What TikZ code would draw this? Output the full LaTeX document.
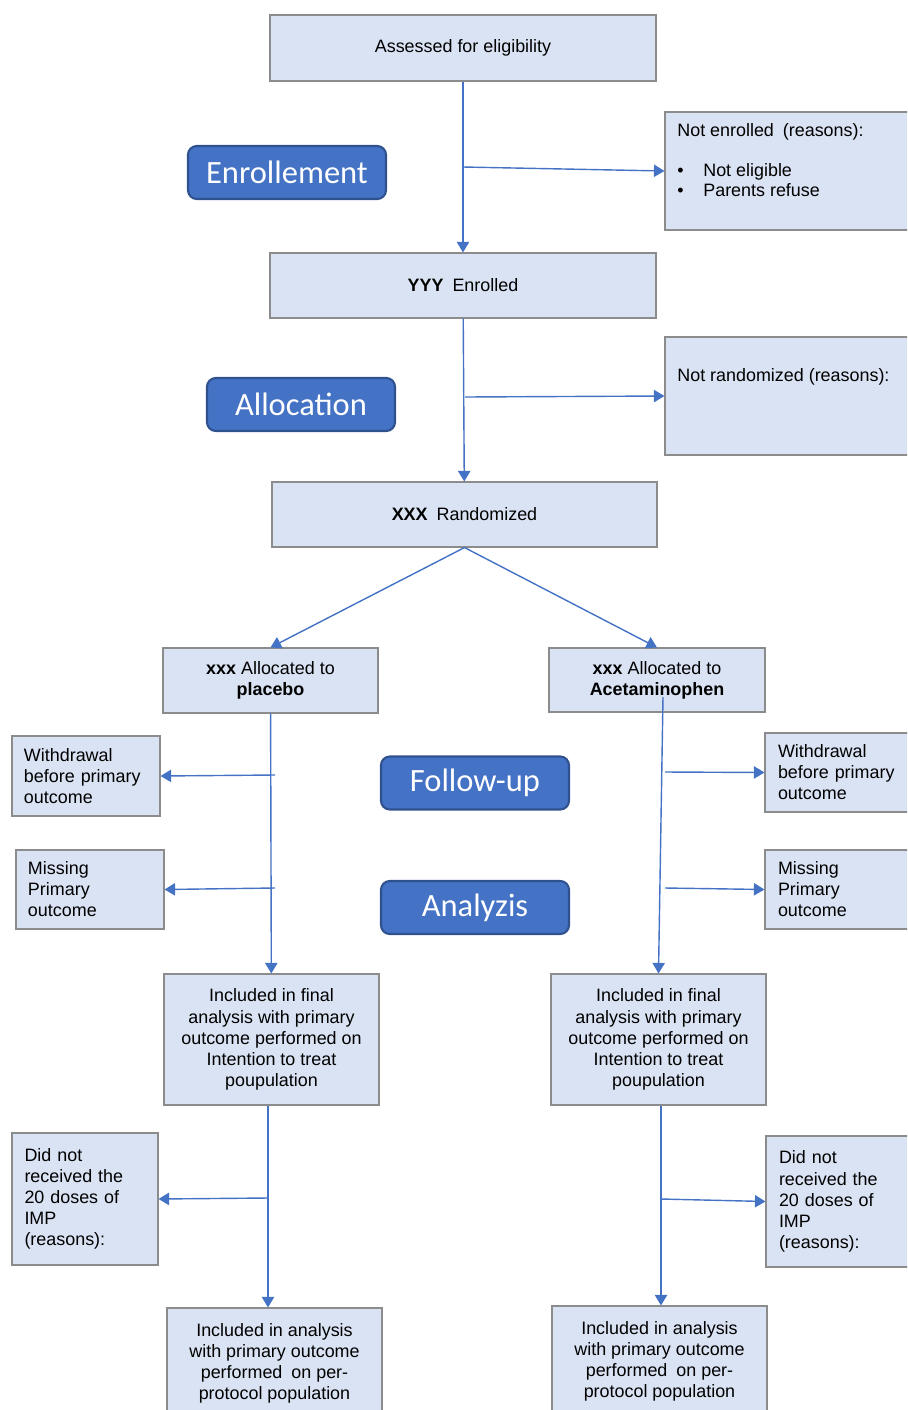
\documentclass[tikz,border=0pt]{standalone}
\usepackage{fontspec}
\setmainfont{Liberation Sans}
\newfontfamily\phasefont{Carlito}
\usetikzlibrary{arrows.meta}
\definecolor{boxfill}{HTML}{DAE3F3}
\definecolor{boxline}{HTML}{8C8C8C}
\definecolor{flowblue}{HTML}{4472C4}
\definecolor{phaseline}{HTML}{2F528F}
\newlength{\pix}
\setlength{\pix}{0.02cm}
\begin{document}
\begin{tikzpicture}[x = 0.02cm, y = -0.02cm,
		box/.style = {draw = boxline, fill = boxfill, line width = 0.6pt, inner sep = 0pt, align = center, font = \fontsize{10.2pt}{12pt}\selectfont},
		phase/.style = {draw = phaseline, fill = flowblue, line width = 1.2pt, rounded corners = 5pt, inner sep = 0pt, text = white, minimum width = 188\pix, minimum height = 53\pix, font = \phasefont\fontsize{18.5pt}{20pt}\selectfont},
		flow/.style = {draw = flowblue, line width = 0.8pt, -{Triangle[width = 7pt, length = 6pt]}},
		note/.style = {anchor = north west, inner sep = 0pt, align = left, font = \fontsize{10.2pt}{12pt}\selectfont}]
			\useasboundingbox (0, 0) rectangle (907, 1410);
			\clip (0, 0) rectangle (907, 1410);
			\node[box, minimum width = 386\pix, minimum height = 66\pix] (assess) at (463, 48) {Assessed for eligibility};
			\node[box, minimum width = 255\pix, minimum height = 118\pix] (notenr) at (792.5, 171) {};
				\node[note] (notenrtxt) at (677, 123) {Not enrolled\enspace (reasons):\\[11pt]\textbullet\hspace{1.1em}Not eligible\\[-1pt]\textbullet\hspace{1.1em}Parents refuse};
			\node[phase, minimum width = 198\pix] (enrol) at (287, 172.5) {Enrollement};
			\node[box, minimum width = 386\pix, minimum height = 65\pix] (yyy) at (463, 285.5) {\textbf{YYY}\enspace Enrolled};
			\node[box, minimum width = 255\pix, minimum height = 118\pix] (notrand) at (792.5, 396) {};
				\node[note] (notrandtxt) at (677, 368) {Not randomized (reasons):};
			\node[phase] (alloc) at (301, 404.5) {Allocation};
			\node[box, minimum width = 385\pix, minimum height = 65\pix] (rand) at (464.5, 514.5) {\textbf{XXX}\enspace Randomized};
			\node[box, minimum width = 215\pix, minimum height = 65\pix] (placebo) at (270.5, 680.5) {\textbf{xxx} Allocated to\\\textbf{placebo}};
			\node[box, minimum width = 216\pix, minimum height = 64\pix] (acet) at (657, 680) {\textbf{xxx} Allocated to\\\textbf{Acetaminophen}};
			\node[box, align = left, text width = 124\pix, minimum width = 148\pix, minimum height = 80\pix] (wdl) at (86, 776) {Withdrawal\\before primary\\outcome};
			\node[box, align = left, text width = 129\pix, minimum width = 155\pix, minimum height = 79\pix] (wdr) at (842.5, 772.5) {Withdrawal\\before primary\\outcome};
			\node[phase] (follow) at (475, 783) {Follow-up};
			\node[box, align = left, text width = 124\pix, minimum width = 148\pix, minimum height = 79\pix] (msl) at (90, 889.5) {Missing\\Primary\\outcome};
			\node[box, align = left, text width = 129\pix, minimum width = 155\pix, minimum height = 79\pix] (msr) at (842.5, 889.5) {Missing\\Primary\\outcome};
			\node[phase] (analyz) at (475, 907.5) {Analyzis};
			\node[box, minimum width = 215\pix, minimum height = 131\pix] (incl) at (271.5, 1039.5) {Included in final\\analysis with primary\\outcome performed on\\Intention to treat\\poupulation};
			\node[box, minimum width = 215\pix, minimum height = 131\pix] (incr) at (658.5, 1039.5) {Included in final\\analysis with primary\\outcome performed on\\Intention to treat\\poupulation};
			\node[box, align = left, text width = 121\pix, minimum width = 146\pix, minimum height = 132\pix] (dnl) at (85, 1199) {Did not\\received the\\20 doses of\\IMP\\(reasons):};
			\node[box, align = left, text width = 128\pix, minimum width = 154\pix, minimum height = 131\pix] (dnr) at (843, 1201.5) {Did not\\received the\\20 doses of\\IMP\\(reasons):};
			\node[box, minimum width = 215\pix, minimum height = 110\pix] (ppl) at (274.5, 1363) {Included in analysis\\with primary outcome\\performed\enspace on per-\\protocol population};
			\node[box, minimum width = 215\pix, minimum height = 110\pix] (ppr) at (659.5, 1361) {Included in analysis\\with primary outcome\\performed\enspace on per-\\protocol population};
			\coordinate (enrbr) at (463, 167);
			\coordinate (randbr) at (465, 397);
			\coordinate (acetstem) at (663, 697);
			\coordinate (wdlbr) at (275, 775);
			\coordinate (mslbr) at (275, 888);
			\coordinate (wdrbr) at (665, 772);
			\coordinate (msrbr) at (665, 888);
			\coordinate (dnlbr) at (268, 1198);
			\coordinate (dnrbr) at (661, 1199);
			\draw[flow] (assess) -- (yyy);
			\draw[flow] (enrbr) -- (notenr.west);
			\draw[flow] (yyy) -- (rand);
			\draw[flow] (randbr) -- (notrand.west);
			\draw[flow] (rand.south) -- (placebo.north);
			\draw[flow] (rand.south) -- (acet.north);
			\draw[flow] (placebo) -- (incl);
			\draw[flow] (wdlbr) -- (wdl.east);
			\draw[flow] (mslbr) -- (msl.east);
			\draw[flow] (acetstem) -- (incr.north);
			\draw[flow] (wdrbr) -- (wdr.west);
			\draw[flow] (msrbr) -- (msr.west);
			\draw[flow] (incl.south -| dnlbr) -- (ppl.north -| dnlbr);
			\draw[flow] (dnlbr) -- (dnl.east);
			\draw[flow] (incr.south -| dnrbr) -- (ppr.north -| dnrbr);
			\draw[flow] (dnrbr) -- (dnr.west);
\end{tikzpicture}
\end{document}
